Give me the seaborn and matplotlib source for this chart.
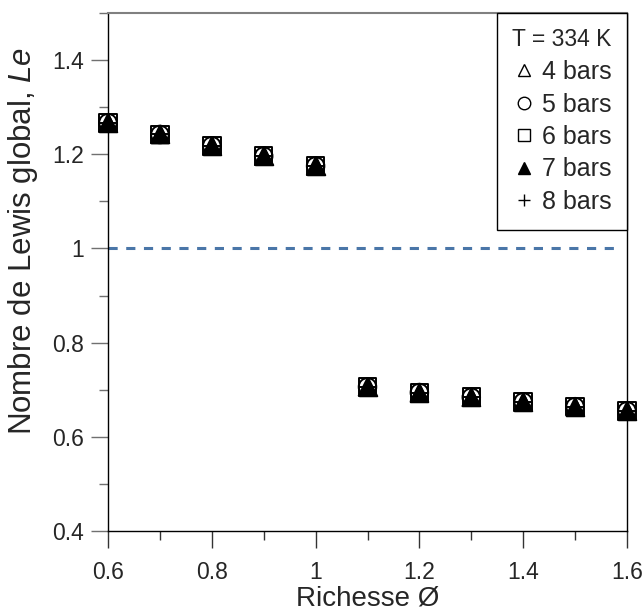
import matplotlib
matplotlib.use("Agg")
import matplotlib.pyplot as plt
import seaborn as sns
from matplotlib.ticker import MultipleLocator, FuncFormatter
from matplotlib.lines import Line2D

# ---------------- data ----------------
richesse = [0.6, 0.7, 0.8, 0.9, 1.0, 1.1, 1.2, 1.3, 1.4, 1.5, 1.6]
le_4bars = [1.267, 1.242, 1.218, 1.196, 1.175, 0.706, 0.694, 0.684, 0.674, 0.664, 0.655]
le_5bars = [1.267, 1.242, 1.218, 1.196, 1.175, 0.706, 0.694, 0.684, 0.674, 0.664, 0.655]
le_6bars = [1.267, 1.242, 1.218, 1.196, 1.175, 0.706, 0.694, 0.684, 0.674, 0.664, 0.655]
le_7bars = [1.267, 1.242, 1.218, 1.196, 1.175, 0.706, 0.694, 0.684, 0.674, 0.664, 0.655]
le_8bars = [1.267, 1.242, 1.218, 1.196, 1.175, 0.706, 0.694, 0.684, 0.674, 0.664, 0.655]
series_labels = ["4 bars", "5 bars", "6 bars", "7 bars", "8 bars"]
legend_title = "T = 334 K"
xlabel = "Richesse Ø"
ylabel = "Nombre de Lewis global, $\\mathit{Le}$"
reference_le = 1.0

# ---------------- style ----------------
sns.set_style("ticks")
plt.rcParams["font.family"] = ["Liberation Sans", "DejaVu Sans"]
plt.rcParams["mathtext.fontset"] = "custom"
plt.rcParams["mathtext.rm"] = "Liberation Sans"
plt.rcParams["mathtext.it"] = "Liberation Sans:italic"

fig = plt.figure(figsize=(6.43, 6.12), dpi=100)
ax = fig.add_axes([108 / 643, 1 - 531 / 612, (627 - 108) / 643, (531 - 13) / 612])

styles = [
    dict(marker="^", facecolor="none"),
    dict(marker="o", facecolor="none"),
    dict(marker="s", facecolor="none"),
    dict(marker="^", facecolor="black"),
    dict(marker="+", facecolor="black"),
]
all_series = [le_4bars, le_5bars, le_6bars, le_7bars, le_8bars]

for vals, st in zip(all_series, styles):
    sns.scatterplot(x=richesse, y=vals, ax=ax, color="black",
                    marker=st["marker"], facecolor=st["facecolor"],
                    edgecolor="black", linewidth=1.4, s=160,
                    clip_on=False, zorder=3)

ax.axhline(reference_le, xmin=0, xmax=0.985, color="#4a76a8", lw=2.2,
           dashes=(3.0, 2.8), zorder=2)

ax.set_xlim(0.6, 1.6)
ax.set_ylim(0.4, 1.5)
ax.xaxis.set_major_locator(MultipleLocator(0.2))
ax.xaxis.set_minor_locator(MultipleLocator(0.1))
ax.yaxis.set_major_locator(MultipleLocator(0.2))
ax.yaxis.set_minor_locator(MultipleLocator(0.1))
fmt = FuncFormatter(lambda v, p: f"{v:g}")
ax.xaxis.set_major_formatter(fmt)
ax.yaxis.set_major_formatter(fmt)

ax.tick_params(axis="both", which="major", direction="out", length=12.5,
               width=1.0, labelsize=16.5)
ax.tick_params(axis="x", which="major", pad=9)
ax.tick_params(axis="y", which="major", pad=5)
ax.tick_params(axis="both", which="minor", direction="out", length=6.5, width=1.0)
ax.tick_params(axis="x", which="both", color="#333333")
ax.tick_params(axis="y", which="both", color="#707070")

for side in ["left", "right", "bottom"]:
    ax.spines[side].set_visible(True)
    ax.spines[side].set_color("black")
    ax.spines[side].set_linewidth(1.0)
ax.spines["top"].set_visible(True)
ax.spines["top"].set_color("#808080")
ax.spines["top"].set_linewidth(1.5)

ax.set_xlabel(xlabel, fontsize=20, labelpad=1)
ax.set_ylabel(ylabel, fontsize=22.5)
ax.yaxis.set_label_coords(-0.131, 0.56)

handles = []
for lab, st in zip(series_labels, styles):
    handles.append(Line2D([], [], linestyle="none", marker=st["marker"],
                          markerfacecolor=st["facecolor"],
                          markeredgecolor="black", markeredgewidth=1.0,
                          markersize=9, label=lab))
leg = ax.legend(handles=handles, title=legend_title, loc="upper right",
                bbox_to_anchor=(1.0, 1.0), borderaxespad=0, fontsize=18,
                title_fontsize=16.5, frameon=True, fancybox=False,
                edgecolor="black", framealpha=1, handlelength=0.3,
                handletextpad=0.58, labelspacing=0.34, borderpad=0.62,
                alignment="right")
leg.get_frame().set_linewidth(1.0)

fig.savefig("out.png", dpi=100, facecolor="white")
